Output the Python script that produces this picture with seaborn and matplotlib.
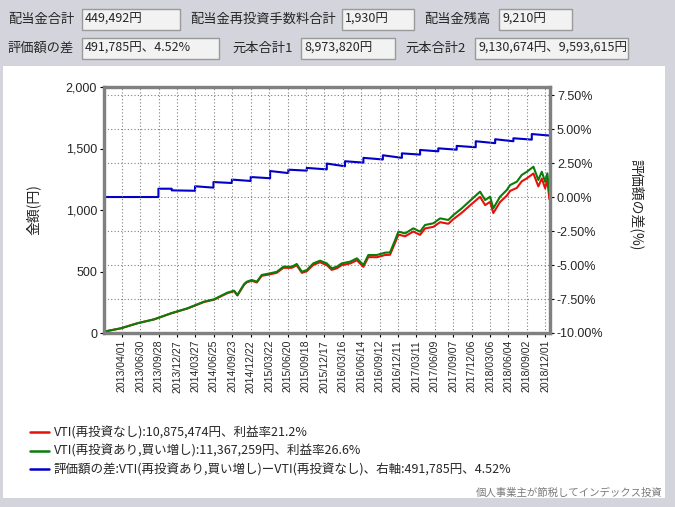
import numpy as np
import pandas as pd
import seaborn as sns
import matplotlib.pyplot as plt
from matplotlib.patches import Rectangle
from matplotlib.lines import Line2D

# values in 10,000 yen (万円)
vti_dates = [
    '2013-01-04', '2013-03-27', '2013-06-16', '2013-09-06', '2013-11-27', '2014-02-16',
    '2014-05-08', '2014-06-26', '2014-08-30', '2014-10-02', '2014-10-18', '2014-11-20',
    '2014-12-03', '2014-12-27', '2015-01-21', '2015-02-14', '2015-03-27', '2015-04-29',
    '2015-05-31', '2015-07-11', '2015-08-04', '2015-08-29', '2015-09-22', '2015-10-24',
    '2015-11-26', '2015-12-29', '2016-01-22', '2016-02-16', '2016-03-11', '2016-04-21',
    '2016-05-24', '2016-06-25', '2016-07-19', '2016-08-29', '2016-10-09', '2016-11-02',
    '2016-11-27', '2016-12-13', '2017-01-15', '2017-02-24', '2017-03-29', '2017-04-22',
    '2017-06-02', '2017-07-05', '2017-08-14', '2017-09-08', '2017-10-19', '2017-11-28',
    '2018-01-16', '2018-02-10', '2018-03-06', '2018-03-22', '2018-04-24', '2018-05-27',
    '2018-06-12', '2018-07-15', '2018-08-08', '2018-09-02', '2018-10-04', '2018-10-28',
    '2018-11-14', '2018-11-30', '2018-12-11', '2018-12-21',
]
green_vals = [
    11, 38, 79, 111, 160, 201, 255, 274, 328, 344, 309, 398,
    417, 431, 417, 472, 485, 498, 539, 539, 561, 498, 512, 566,
    588, 566, 526, 539, 566, 580, 607, 553, 634, 634, 653, 655,
    756, 824, 810, 851, 824, 878, 892, 932, 919, 959, 1014, 1075,
    1149, 1081, 1108, 1014, 1108, 1163, 1203, 1230, 1285, 1311, 1352, 1244,
    1311, 1230, 1298, 1137,
]
red_vals = [
    11, 38, 79, 111, 159, 199, 252, 271, 324, 340, 305, 393,
    412, 425, 411, 465, 477, 490, 530, 530, 551, 489, 502, 554,
    575, 552, 513, 526, 552, 565, 591, 538, 617, 616, 634, 636,
    734, 800, 786, 825, 798, 850, 863, 901, 888, 926, 978, 1037,
    1107, 1040, 1066, 975, 1065, 1117, 1155, 1180, 1233, 1258, 1297, 1192,
    1256, 1177, 1243, 1088,
]

# difference of valuation, % (right axis)
diff_dates = [
    '2013-01-04', '2013-09-27', '2013-09-27', '2013-12-01', '2013-12-01', '2014-03-25',
    '2014-03-25', '2014-06-23', '2014-06-23', '2014-09-21', '2014-09-21', '2014-12-22',
    '2014-12-22', '2015-03-27', '2015-03-27', '2015-06-24', '2015-06-24', '2015-09-22',
    '2015-09-22', '2015-12-29', '2015-12-29', '2016-03-27', '2016-03-27', '2016-06-25',
    '2016-06-25', '2016-09-28', '2016-09-28', '2016-12-30', '2016-12-30', '2017-03-29',
    '2017-03-29', '2017-06-26', '2017-06-26', '2017-09-24', '2017-09-24', '2017-12-26',
    '2017-12-26', '2018-03-31', '2018-03-31', '2018-06-28', '2018-06-28', '2018-09-26',
    '2018-09-26', '2018-12-21',
]
diff_pct = [
    0.00, 0.00, 0.61, 0.61, 0.49, 0.46,
    0.79, 0.69, 1.10, 1.03, 1.28, 1.18,
    1.47, 1.38, 1.91, 1.76, 2.01, 1.94,
    2.14, 2.03, 2.46, 2.26, 2.63, 2.53,
    2.88, 2.76, 3.07, 2.88, 3.21, 3.12,
    3.46, 3.36, 3.58, 3.48, 3.76, 3.66,
    4.10, 3.96, 4.25, 4.10, 4.32, 4.22,
    4.63, 4.52,
]

legend_labels = [
    'VTI(再投資なし):10,875,474円、利益率21.2%',
    'VTI(再投資あり,買い増し):11,367,259円、利益率26.6%',
    '評価額の差:VTI(再投資あり,買い増し)ーVTI(再投資なし)、右軸:491,785円、4.52%',
]

# header fields: (label, label x, box x0, box x1, value)
row1 = [('配当金合計', 8, 82, 180, '449,492円'),
        ('配当金再投資手数料合計', 190, 342, 414, '1,930円'),
        ('配当金残高', 424, 499, 572, '9,210円')]
row2 = [('評価額の差', 8, 82, 219, '491,785円、4.52%'),
        ('元本合計1', 232, 301, 395, '8,973,820円'),
        ('元本合計2', 405, 475, 628, '9,130,674円、9,593,615円')]

W, H = 675, 507
sns.set_style('white')
plt.rcParams['font.family'] = ['Noto Sans CJK JP', 'DejaVu Sans']

fig = plt.figure(figsize=(W / 100, H / 100), dpi=100, facecolor='#d4d4dc')


def fx(px):
    return px / W


def fy(py):
    return 1 - py / H


# white chart panel
fig.patches.append(Rectangle((fx(3), fy(498)), fx(662), 432 / H, transform=fig.transFigure,
                             facecolor='white', edgecolor='none', zorder=-10))

# header boxes
for row, yc in ((row1, 19), (row2, 48)):
    for label, lx, x0, x1, val in row:
        fig.text(fx(lx), fy(yc), label, fontsize=9.5, va='center', ha='left')
        fig.patches.append(Rectangle((fx(x0), fy(yc + 10.5)), fx(x1 - x0), 21 / H,
                                     transform=fig.transFigure, facecolor='#f2f2f2',
                                     edgecolor='#9a9a9a', linewidth=1, zorder=-5))
        fig.text(fx(x0 + 3), fy(yc), val, fontsize=9, va='center', ha='left')

ax = fig.add_axes([fx(104), fy(333), fx(446), 246 / H])
ax2 = ax.twinx()
ax.set_zorder(2)
ax2.set_zorder(1)
ax.patch.set_visible(False)
ax2.patch.set_facecolor('white')

df = pd.DataFrame({
    'date': pd.to_datetime(vti_dates * 2),
    'value': red_vals + green_vals,
    'series': ['red'] * len(vti_dates) + ['green'] * len(vti_dates),
})
sns.lineplot(data=df, x='date', y='value', hue='series',
             palette={'red': '#e8100c', 'green': '#0b7d0b'},
             estimator=None, linewidth=1.5, legend=False, ax=ax)
sns.lineplot(x=pd.to_datetime(diff_dates), y=diff_pct, sort=False, estimator=None,
             color='#0000c8', linewidth=1.5, ax=ax2)

ax.set_xlim(pd.Timestamp('2013-01-04'), pd.Timestamp('2018-12-24'))
ax.set_ylim(0, 2000)
ax2.set_ylim(-10, 8.09)

xt = pd.date_range('2013-04-01', periods=24, freq='90D')
ax.set_xticks(xt)
ax.set_xticklabels([d.strftime('%Y/%m/%d') for d in xt], rotation=90,
                   fontsize=7.6, family='Liberation Sans')
ax.set_yticks([0, 500, 1000, 1500, 2000])
ax.set_yticklabels(['0', '500', '1,000', '1,500', '2,000'], fontsize=9, family='Liberation Sans')
pt = [-10, -7.5, -5, -2.5, 0, 2.5, 5, 7.5]
ax2.set_yticks(pt)
ax2.set_yticklabels([f'{p:.2f}%' for p in pt], fontsize=9, family='Liberation Sans')

ax.grid(axis='x', color='#808080', linestyle=(0, (1, 2)), linewidth=0.8)
ax.grid(axis='y', visible=False)
ax2.grid(axis='y', color='#808080', linestyle=(0, (1, 2)), linewidth=0.8)
ax2.set_axisbelow(True)

for a in (ax, ax2):
    a.tick_params(direction='out', length=3, width=0.8, color='black', pad=2)
    for s in a.spines.values():
        s.set_color('#808080')
        s.set_linewidth(2.3)
ax.tick_params(axis='both', left=True, bottom=True)
ax2.tick_params(axis='y', right=True)

ax.set_xlabel('')
ax.set_ylabel('金額(円)', fontsize=10)
ax.yaxis.set_label_coords(-0.143, 0.5)
ax2.set_ylabel('評価額の差(%)', fontsize=10, rotation=270, va='center')
ax2.yaxis.set_label_coords(1.195, 0.52)

handles = [Line2D([], [], color=c, linewidth=1.8) for c in ('#e8100c', '#0b7d0b', '#0000c8')]
fig.legend(handles, legend_labels, loc='upper left', bbox_to_anchor=(fx(30), fy(426)),
           frameon=False, fontsize=9, handlelength=1.5, handletextpad=0.4,
           labelspacing=0.45, borderpad=0, borderaxespad=0)

fig.text(fx(663), fy(493), '個人事業主が節税してインデックス投資', fontsize=7.5,
         color='#7a7a7a', ha='right', va='center')

fig.savefig('out.png', dpi=100, facecolor=fig.get_facecolor())
